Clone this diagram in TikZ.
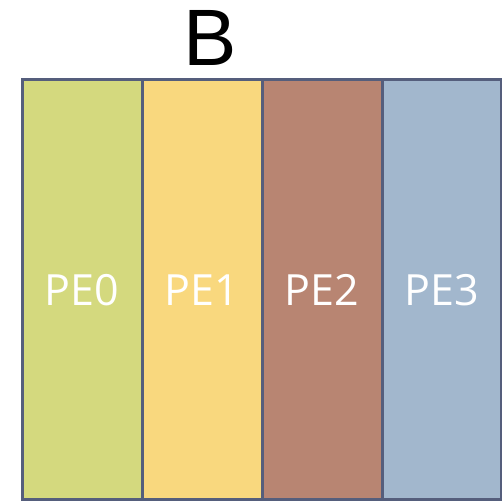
\documentclass[tikz,border=0pt]{standalone}
\usepackage{fontspec}
\setmainfont{Liberation Sans}
\newfontfamily\labelfont{Open Sans}
\definecolor{peGreen}{HTML}{D4D97E}
\definecolor{peYellow}{HTML}{F9D87E}
\definecolor{peBrown}{HTML}{B88572}
\definecolor{peBlue}{HTML}{A2B7CD}
\definecolor{peEdge}{HTML}{555E7C}
\begin{document}
\begin{tikzpicture}[x=1pt,y=1pt,
  pecol/.style={draw=peEdge,line width=3pt,minimum width=120pt,minimum height=420pt,
    inner sep=0pt,outer sep=0pt,anchor=north west,
    font=\labelfont\fontsize{43}{43}\selectfont,text=white},
  title/.style={font=\fontsize{80}{80}\selectfont,text=black,inner sep=0pt}]
\useasboundingbox (0,0) rectangle (501,503);
\node[pecol,fill=peGreen]  (pe0) at (22,423)  {PE0};
\node[pecol,fill=peYellow] (pe1) at (142,423) {PE1};
\node[pecol,fill=peBrown]  (pe2) at (262,423) {PE2};
\node[pecol,fill=peBlue,minimum width=119.5pt] (pe3) at (382,423) {PE3};
\node[title] (b) at (210,465) {B};
\end{tikzpicture}
\end{document}
